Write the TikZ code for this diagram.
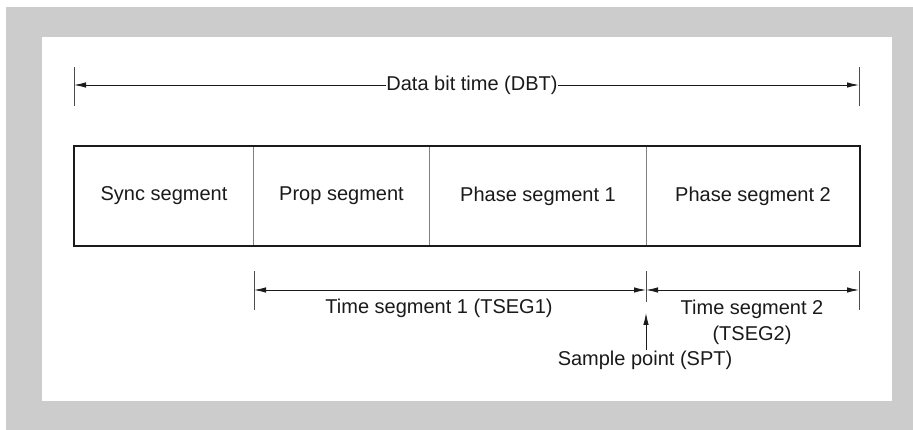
\documentclass[tikz,border=0pt]{standalone}
\usepackage{fontspec}
\setmainfont{Liberation Sans}
\usetikzlibrary{arrows.meta}
\definecolor{bggray}{HTML}{CCCCCC}
\definecolor{ink}{HTML}{1A1A1A}
\tikzset{myarr/.tip={Latex[length=12pt,width=5.5pt]}}
\begin{document}
\begin{tikzpicture}[x=1pt,y=-1pt,
  lbl/.style={font=\fontsize{20}{26}\selectfont, inner sep=0pt, text=ink, align=center},
  cell/.style={draw=black!50, line width=1pt, minimum height=99pt, inner sep=0pt, anchor=north west, font=\fontsize{20}{24}\selectfont, text=ink},
  dimline/.style={draw=ink, line width=0.9pt},
  tickline/.style={draw=black!70, line width=0.9pt}]
\useasboundingbox (0,0) rectangle (913,430);
\fill[white] (0,0) rectangle (913,430);
\fill[bggray] (6,7) rectangle (913,430);
\fill[white] (42,37) rectangle (892,401);

% segment cells
\node[cell, minimum width=179pt] (sync) at (74,146) {Sync segment};
\node[cell, minimum width=176pt] (prop) at (253,146) {Prop segment};
\node[cell, minimum width=217pt] (ph1) at (429,146) {Phase segment 1};
\node[cell, minimum width=213pt] (ph2) at (646,146) {Phase segment 2};
\draw[ink, line width=2pt] (sync.north west) rectangle (ph2.south east);

% data bit time
\coordinate (dLt) at (74,67);  \coordinate (dLb) at (74,106);
\coordinate (dRt) at (859,67); \coordinate (dRb) at (859,106);
\coordinate (dL) at (74,85);   \coordinate (dR) at (859,85);
\draw[tickline] (dLt) -- (dLb);
\draw[tickline] (dRt) -- (dRb);
\node[lbl] (dbt) at (472,85) {Data bit time (DBT)};
\draw[dimline, -myarr] (dbt.west) -- (dL);
\draw[dimline, -myarr] (dbt.east) -- (dR);

% time segments
\coordinate (t1t) at (254,271); \coordinate (t1b) at (254,310);
\coordinate (smt) at (646,271); \coordinate (smb) at (646,302);
\coordinate (t2t) at (859,271); \coordinate (t2b) at (859,310);
\coordinate (a1) at (254,290); \coordinate (am) at (646,290); \coordinate (a2) at (859,290);
\draw[tickline] (t1t) -- (t1b);
\draw[tickline] (smt) -- (smb);
\draw[tickline] (t2t) -- (t2b);
\draw[dimline, myarr-myarr] (a1) -- (am);
\draw[dimline, myarr-myarr] (am) -- (a2);
\node[lbl] (ts1) at (439,308) {Time segment 1 (TSEG1)};
\node[lbl] (ts2) at (752,322) {Time segment 2\\(TSEG2)};

% sample point
\node[lbl] (spt) at (645,360) {Sample point (SPT)};
\coordinate (sptBase) at (646,350);
\coordinate (sptTip) at (646,313);
\draw[dimline, -myarr] (sptBase) -- (sptTip);
\end{tikzpicture}
\end{document}
